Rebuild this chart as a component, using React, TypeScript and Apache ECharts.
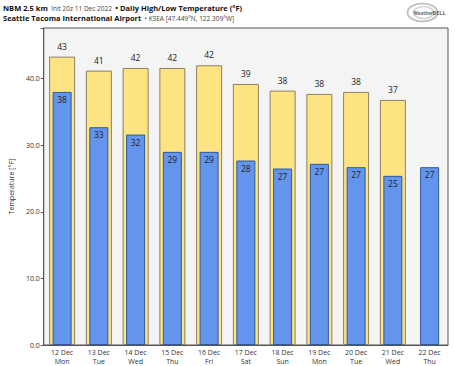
import React, { useEffect, useRef } from "react";
import * as echarts from "echarts";

const dates = ["12 Dec", "13 Dec", "14 Dec", "15 Dec", "16 Dec", "17 Dec", "18 Dec", "19 Dec", "20 Dec", "21 Dec", "22 Dec"];
const weekdays = ["Mon", "Tue", "Wed", "Thu", "Fri", "Sat", "Sun", "Mon", "Tue", "Wed", "Thu"];
const highs: (number | null)[] = [43.3, 41.2, 41.6, 41.6, 42.0, 39.2, 38.2, 37.7, 38.0, 36.8, null];
const lows: number[] = [38.0, 32.7, 31.6, 29.0, 29.0, 27.7, 26.5, 27.2, 26.7, 25.4, 26.7];
const yTicks = [0, 10, 20, 30, 40];

const FONT = "'Open Sans', 'DejaVu Sans', sans-serif";

export default function App() {
  const ref = useRef<HTMLDivElement>(null);
  useEffect(() => {
    if (!ref.current) return;
    const chart = echarts.init(ref.current, null, { renderer: "svg" });
    const cats = dates.map((d, i) => `${d}\n${weekdays[i]}`);
    const xAxisBase = {
      type: "category" as const,
      data: cats,
      boundaryGap: true,
      axisTick: { show: false },
      axisLine: { show: true, lineStyle: { color: "#555", width: 1 } },
    };
    chart.setOption({
      animation: false,
      backgroundColor: "#fff",
      textStyle: { fontFamily: FONT },
      graphic: [
        {
          type: "text",
          left: 3,
          top: 2,
          style: {
            text: "{b|NBM 2.5 km} {n|Init 20z 11 Dec 2022} {b|• Daily High/Low Temperature (°F)}",
            rich: {
              b: { fontFamily: FONT, fontWeight: "bold", fontSize: 7.5, fill: "#111" },
              n: { fontFamily: FONT, fontSize: 6.5, fill: "#444" },
            },
          },
        },
        {
          type: "text",
          left: 3,
          top: 12,
          style: {
            text: "{b|Seattle Tacoma International Airport} {n|• KSEA [47.449°N, 122.309°W]}",
            rich: {
              b: { fontFamily: FONT, fontWeight: "bold", fontSize: 7.5, fill: "#111" },
              n: { fontFamily: FONT, fontSize: 6.5, fill: "#444" },
            },
          },
        },
        {
          type: "group",
          left: 405,
          top: 1,
          children: [
            { type: "ellipse", shape: { cx: 17, cy: 10, rx: 15, ry: 9 }, style: { fill: "none", stroke: "#c4c4c4", lineWidth: 2 } },
            { type: "ellipse", shape: { cx: 18, cy: 10, rx: 10, ry: 6 }, style: { fill: "none", stroke: "#d4d4d4", lineWidth: 1.5 } },
            { type: "text", x: 8, y: 8, style: { text: "Weather", fontSize: 4.5, fill: "#666", fontFamily: FONT, fontWeight: "bold" } },
            { type: "text", x: 27, y: 7.5, style: { text: "BELL", fontSize: 5.5, fill: "#666", fontFamily: FONT, fontWeight: "bold" } },
          ],
        },
      ],
      grid: {
        left: 33,
        right: 7,
        top: 28,
        bottom: 21,
        show: true,
        backgroundColor: "#f4f4f4",
        borderColor: "#555",
        borderWidth: 1,
      },
      xAxis: [
        {
          ...xAxisBase,
          axisLabel: { color: "#333", fontSize: 7, lineHeight: 9, margin: 3, interval: 0, fontFamily: FONT },
        },
        { ...xAxisBase, show: false },
      ],
      yAxis: {
        type: "value",
        min: 0,
        max: 47.6,
        interval: 10,
        name: "Temperature [°F]",
        nameLocation: "middle",
        nameGap: 22,
        nameTextStyle: { fontSize: 7, color: "#333", fontFamily: FONT },
        axisLine: { show: true, lineStyle: { color: "#555" } },
        axisTick: { show: true, length: 3, lineStyle: { color: "#555" } },
        splitLine: { show: false },
        axisLabel: {
          fontSize: 7,
          color: "#333",
          margin: 4,
          fontFamily: FONT,
          formatter: (v: number) => (yTicks.includes(v) ? v.toFixed(1) : ""),
        },
      },
      series: [
        {
          type: "bar",
          xAxisIndex: 0,
          data: highs,
          barWidth: 26,
          itemStyle: { color: "#fee383", borderColor: "#8a8068", borderWidth: 1 },
          label: {
            show: true,
            position: "top",
            distance: 6,
            fontSize: 8.5,
            color: "#222",
            fontFamily: FONT,
            formatter: (p: any) => String(Math.round(p.value)),
          },
          z: 2,
        },
        {
          type: "bar",
          xAxisIndex: 1,
          data: lows,
          barWidth: 19,
          itemStyle: { color: "#6495ed", borderColor: "#2b5a9e", borderWidth: 1 },
          label: {
            show: true,
            position: "insideTop",
            distance: 3,
            fontSize: 8.5,
            color: "#222",
            fontFamily: FONT,
            formatter: (p: any) => String(Math.round(p.value)),
          },
          z: 3,
        },
      ],
    });
    return () => chart.dispose();
  }, []);
  return <div ref={ref} style={{ width: 455, height: 366, position: "absolute", left: 0, top: 0 }} />;
}
